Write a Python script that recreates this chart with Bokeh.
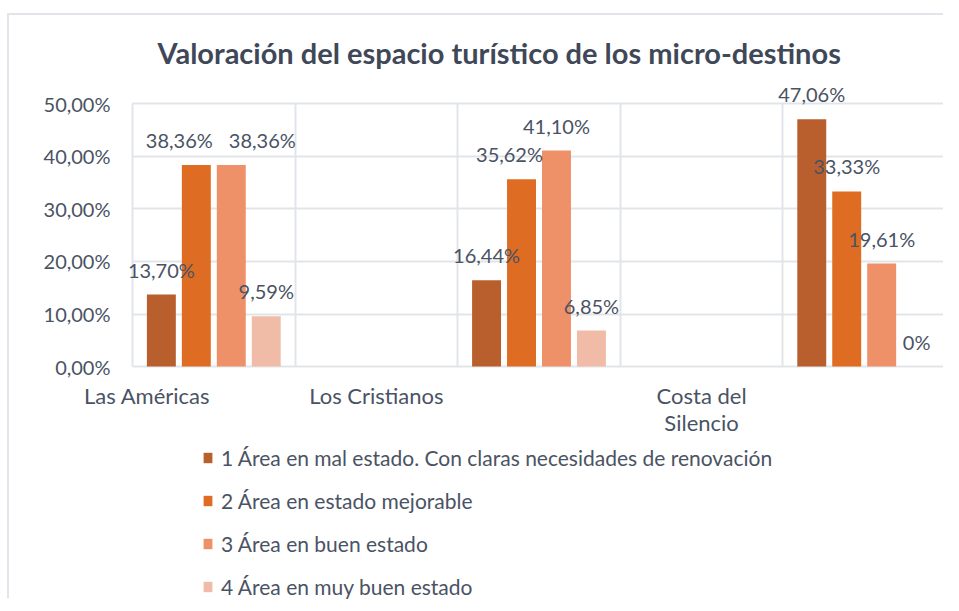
from bokeh.plotting import figure
from bokeh.models import (ColumnDataSource, LabelSet, Legend, LegendItem, FixedTicker,
                          CustomJSTickFormatter)
from bokeh.core.properties import value
from bokeh.embed import file_html
from bokeh.resources import INLINE

# ---------------- data ----------------
categories = ["Las Américas", "Los Cristianos", "Costa del\nSilencio"]
series_names = [
    "1 Área en mal estado. Con claras necesidades de renovación",
    "2 Área en estado mejorable",
    "3 Área en buen estado",
    "4 Área en muy buen estado",
]
serie_1 = [13.70, 16.44, 47.06]
serie_2 = [38.36, 35.62, 33.33]
serie_3 = [38.36, 41.10, 19.61]
serie_4 = [9.59, 6.85, 0.0]
y_ticks = [0, 10, 20, 30, 40, 50]

# ---------------- layout / style ----------------
group_slots = [0, 2, 4]               # slot of each bar group on the 5-slot axis
category_tick_pos = [0.09, 1.5, 3.5]  # where the category texts sit
grid_slots = [0, 1, 2, 3, 4, 5]
dodge = [-0.3225, -0.1075, 0.1075, 0.3225]
bar_width = 0.178
colors = ["#B95F2E", "#DE6C22", "#EE9068", "#F1BCA7"]
label_nudge_px = [[0, 0, 0], [-17, -12, 0], [31, 0, 0], [0, 0, 0]]
text_color = "#4a5364"
grid_color = "#e1e5ea"
FONT = "Lato"
X_LEFT = -0.695   # room left of the plot area for the value axis texts
Y_TOP = 55        # headroom above the 50 % gridline for the data labels
Y_BOTTOM = -44.5  # room below the axis for category texts and legend

all_values = [serie_1, serie_2, serie_3, serie_4]

p = figure(width=936, height=585, x_range=(X_LEFT, max(grid_slots)), y_range=(Y_BOTTOM, Y_TOP),
           output_backend="svg", toolbar_location=None,
           min_border_left=10, min_border_right=0,
           min_border_top=62, min_border_bottom=0)
p.margin = (13, 0, 0, 7)
p.styles = {"border-top": f"2px solid {grid_color}", "border-left": f"2px solid {grid_color}"}
p.background_fill_color = "white"
p.border_fill_color = "white"
p.outline_line_color = None

# title
p.title.text = "Valoración del espacio turístico de los micro-destinos"
p.title.text_font = FONT
p.title.text_font_style = "bold"
p.title.text_font_size = "29px"
p.title.text_color = "#3f4858"
p.title.align = "left"
p.title.offset = 138
p.title.standoff = 16

renderers = []
for k, vals in enumerate(all_values):
    xs = [g + 0.5 + dodge[k] for g in group_slots]
    texts = [("%.2f" % v).replace(".", ",") + "%" if v != 0 else "0%" for v in vals]
    src = ColumnDataSource(dict(x=xs, top=vals, text=texts, dx=label_nudge_px[k]))
    r = p.vbar(x="x", top="top", width=bar_width, bottom=0, source=src,
               fill_color=colors[k], line_color=None)
    renderers.append(r)
    ls = LabelSet(x="x", y="top", text="text", source=src, x_offset="dx", y_offset=25,
                  text_align="center", text_baseline="middle",
                  text_font=value(FONT), text_font_size=value("20px"),
                  text_color=value(text_color))
    p.add_layout(ls)

# axes (drawn at the data origin)
p.xaxis.fixed_location = 0
p.yaxis.fixed_location = 0
p.xaxis.ticker = FixedTicker(ticks=category_tick_pos)
p.xaxis.major_label_overrides = {t: c for t, c in zip(category_tick_pos, categories)}
p.yaxis.ticker = FixedTicker(ticks=y_ticks)
p.yaxis.formatter = CustomJSTickFormatter(code="return tick.toFixed(2).replace('.', ',') + '%';")
for ax in (p.xaxis, p.yaxis):
    ax.axis_line_color = None
    ax.major_tick_line_color = None
    ax.minor_tick_line_color = None
    ax.major_tick_out = 0
    ax.major_tick_in = 0
    ax.major_label_text_font = FONT
    ax.major_label_text_color = text_color
p.xaxis.major_label_text_font_size = "22px"
p.xaxis.major_label_text_line_height = 1.0
p.yaxis.major_label_text_font_size = "20px"
p.xaxis.major_label_standoff = 15
p.yaxis.major_label_standoff = 22

xg = p.xgrid[0]
xg.ticker = FixedTicker(ticks=grid_slots)
xg.grid_line_color = grid_color
xg.grid_line_width = 2
xg.cross_bounds = (0, max(y_ticks))
yg = p.ygrid[0]
yg.grid_line_color = grid_color
yg.grid_line_width = 2
yg.cross_bounds = (min(grid_slots), max(grid_slots))

legend = Legend(items=[LegendItem(label=n, renderers=[r]) for n, r in zip(series_names, renderers)],
                location=(183, 1), orientation="vertical",
                glyph_width=11, glyph_height=13, label_standoff=8,
                label_height=24, spacing=18, padding=0, margin=0,
                label_text_font=FONT, label_text_font_size="21px",
                label_text_color=text_color,
                border_line_color=None, background_fill_alpha=0)
p.add_layout(legend)

open("out.html", "w").write(file_html(p, INLINE))
